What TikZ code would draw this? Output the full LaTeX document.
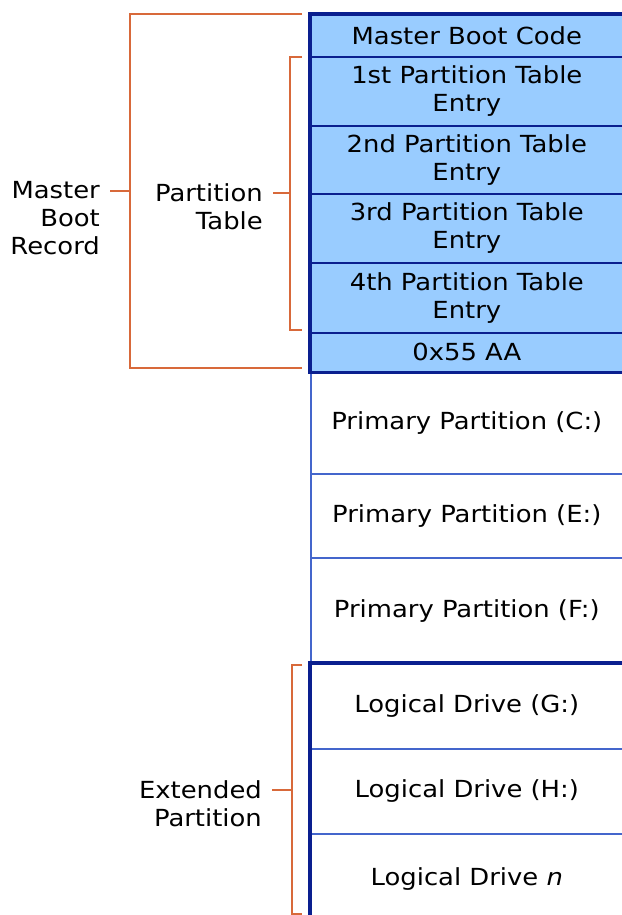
\documentclass[tikz,border=0pt]{standalone}
\usepackage{fontspec}
\newfontfamily\diagfont[FakeStretch=1.1]{DejaVu Sans}
\definecolor{mbrfill}{HTML}{99CCFF}
\definecolor{navy}{HTML}{0A1F8F}
\definecolor{rowblue}{HTML}{4466CC}
\definecolor{braceorange}{HTML}{D8693A}
\tikzset{
  cell/.style={draw=rowblue, fill=white, line width=1.6pt, minimum width=312pt,
    anchor=north west, inner sep=0pt, align=center,
    font=\diagfont\fontsize{23.5}{28}\selectfont},
  mbrcell/.style={cell, fill=mbrfill, draw=navy},
  groupbox/.style={draw=navy, line width=3.5pt},
  bracket/.style={draw=braceorange, line width=2.6pt},
  grouplabel/.style={align=right, anchor=north east, inner xsep=10pt, inner ysep=0pt,
    font=\diagfont\fontsize{23.5}{28}\selectfont}
}
\begin{document}
\begin{tikzpicture}[x=1pt, y=-1pt]
    \useasboundingbox (0,0) rectangle (621,915);
    % master boot record
    \node[mbrcell, minimum height=42] (mbc) at (310,14) {Master Boot Code};
    \node[mbrcell, minimum height=69] (pte1) at (310,56) {1st Partition Table\\Entry};
    \node[mbrcell, minimum height=68] (pte2) at (310,125) {2nd Partition Table\\Entry};
    \node[mbrcell, minimum height=69] (pte3) at (310,193) {3rd Partition Table\\Entry};
    \node[mbrcell, minimum height=70] (pte4) at (310,262) {4th Partition Table\\Entry};
    \node[mbrcell, minimum height=39] (sig) at (310,332) {0x55 AA};
    % primary partitions
    \node[cell, minimum height=102] (ppc) at (310,371) {Primary Partition (C:)};
    \node[cell, minimum height=84] (ppe) at (310,473) {Primary Partition (E:)};
    \node[cell, minimum height=106] (ppf) at (310,557) {Primary Partition (F:)};
    % extended partition
    \node[cell, minimum height=85] (ldg) at (310,663) {Logical Drive (G:)};
    \node[cell, minimum height=85] (ldh) at (310,748) {Logical Drive (H:)};
    \node[cell, minimum height=90] (ldn) at (310,833) {Logical Drive \textit{n}};
    \draw[groupbox] (mbc.north west) rectangle (sig.south east);
    \draw[groupbox] (ldg.north west) rectangle (ldn.south east);
    % brackets
    \coordinate (mbrtop) at (302,14);
    \coordinate (mbrmid) at (130,191);
    \coordinate (mbrbot) at (302,368);
    \coordinate (pttop) at (302,57);
    \coordinate (ptmid) at (290,193);
    \coordinate (ptbot) at (302,330);
    \coordinate (exttop) at (302,665);
    \coordinate (extmid) at (292,790);
    \coordinate (extbot) at (302,914);
    \draw[bracket] (mbrtop) -| (mbrmid) |- (mbrbot);
    \draw[bracket] (pttop) -| (ptmid) |- (ptbot);
    \draw[bracket] (exttop) -| (extmid) |- (extbot);
    \node[grouplabel] (mbrlbl) at (110,181) {Master\\Boot\\Record};
    \node[grouplabel] (ptlbl) at (273,183) {Partition\\Table};
    \node[grouplabel] (extlbl) at (272,780) {Extended\\Partition};
    \draw[bracket] (mbrlbl.east |- mbrmid) -- (mbrmid);
    \draw[bracket] (ptlbl.east |- ptmid) -- (ptmid);
    \draw[bracket] (extlbl.east |- extmid) -- (extmid);
\end{tikzpicture}
\end{document}
